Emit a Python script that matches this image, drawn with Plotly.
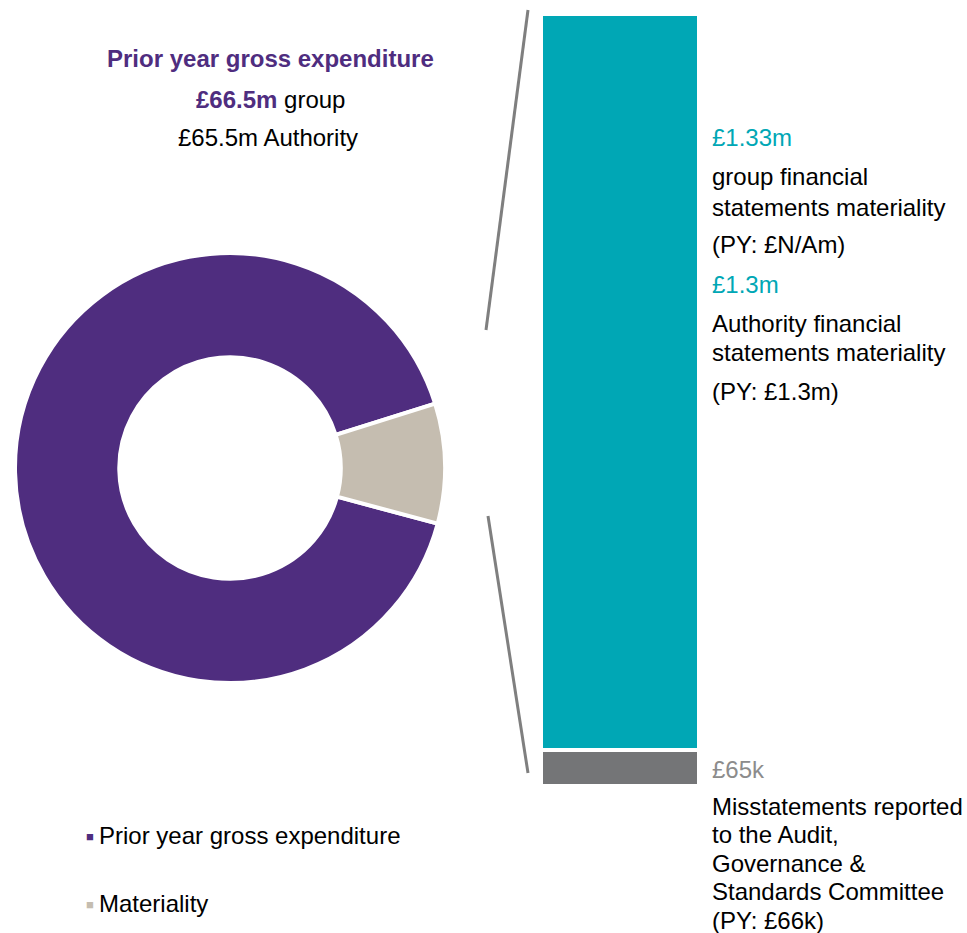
import plotly.graph_objects as go

W, H = 967, 933

# ---- data ----
pie_labels = ["Prior year gross expenditure", "Materiality"]
pie_values = [91, 9]
pie_colors = ["#4F2D7F", "#C5BDB0"]

bar_category = ["Materiality"]
bar_names = ["Misstatements reported", "Financial statements materiality"]
bar_values = [0.065, 1.33]          # £m
bar_colors = ["#747577", "#00A7B5"]

FONT = "Liberation Sans, Arial, sans-serif"
PURPLE = "#4F2D7F"
TEAL = "#00A7B5"
GREY_TXT = "#8C8C8C"
FS = 24


def px(x):
    return x / W


def py(y):
    return 1 - y / H


fig = go.Figure()

# donut
cx, cy, r = 230, 468, 215
fig.add_trace(go.Pie(
    labels=pie_labels,
    values=pie_values,
    marker=dict(colors=pie_colors, line=dict(color="white", width=4)),
    hole=0.515,
    sort=False,
    direction="clockwise",
    rotation=105,
    textinfo="none",
    hoverinfo="label+percent",
    showlegend=False,
    domain=dict(x=[px(cx - r), px(cx + r)], y=[py(cy + r), py(cy - r)]),
))

# stacked bar
for name, val, col in zip(bar_names, bar_values, bar_colors):
    fig.add_trace(go.Bar(
        x=bar_category, y=[val], name=name,
        marker=dict(color=col, line=dict(color="white", width=4)),
        showlegend=False,
    ))

fig.update_layout(
    width=W, height=H,
    margin=dict(l=0, r=0, t=0, b=0),
    paper_bgcolor="white", plot_bgcolor="white",
    barmode="stack", bargap=0,
    xaxis=dict(domain=[px(541), px(699)], visible=False),
    yaxis=dict(domain=[py(786), py(14)], range=[0, sum(bar_values)], visible=False),
    font=dict(family=FONT, size=FS, color="black"),
)

# connector lines
for (x0, y0, x1, y1) in [(528, 10, 486, 330), (488, 516, 528, 773)]:
    fig.add_shape(type="line", xref="paper", yref="paper",
                  x0=px(x0), y0=py(y0), x1=px(x1), y1=py(y1),
                  line=dict(color="#7F7F7F", width=3))


def ann(text, x, y, color="black", xanchor="left", size=FS):
    fig.add_annotation(text=text, x=px(x), y=py(y), xref="paper", yref="paper",
                       xanchor=xanchor, yanchor="middle", showarrow=False,
                       font=dict(family=FONT, size=size, color=color))


# donut heading
ann("<b>Prior year gross expenditure</b>", 270, 58, PURPLE, "center")
ann(f"<b><span style='color:{PURPLE}'>£66.5m</span></b> group", 270, 99, "black", "center")
ann("£65.5m Authority", 268, 137, "black", "center")

# right-hand text
tx = 710
ann("£1.33m", tx, 137, TEAL)
ann("group financial", tx, 176)
ann("statements materiality", tx, 207)
ann("(PY: £N/Am)", tx, 245)
ann("£1.3m", tx, 284, TEAL)
ann("Authority financial", tx, 323)
ann("statements materiality", tx, 353)
ann("(PY: £1.3m)", tx, 391)
ann("£65k", tx, 769, GREY_TXT)
for i, line in enumerate(["Misstatements reported", "to the Audit,", "Governance &",
                          "Standards Committee", "(PY: £66k)"]):
    ann(line, tx, 806 + i * 28.5, "black")

# legend (drawn as text)
for lab, col, y in zip(pie_labels, pie_colors, [835, 903]):
    ann(f"<span style='color:{col}'>■</span>", 84, y + 1, "black", "left", 13)
    ann(lab, 97, y)

fig.write_html(
    "out.html",
    config={"displayModeBar": False},
    post_script="document.body.style.margin='0';document.body.style.overflow='hidden';",
)
